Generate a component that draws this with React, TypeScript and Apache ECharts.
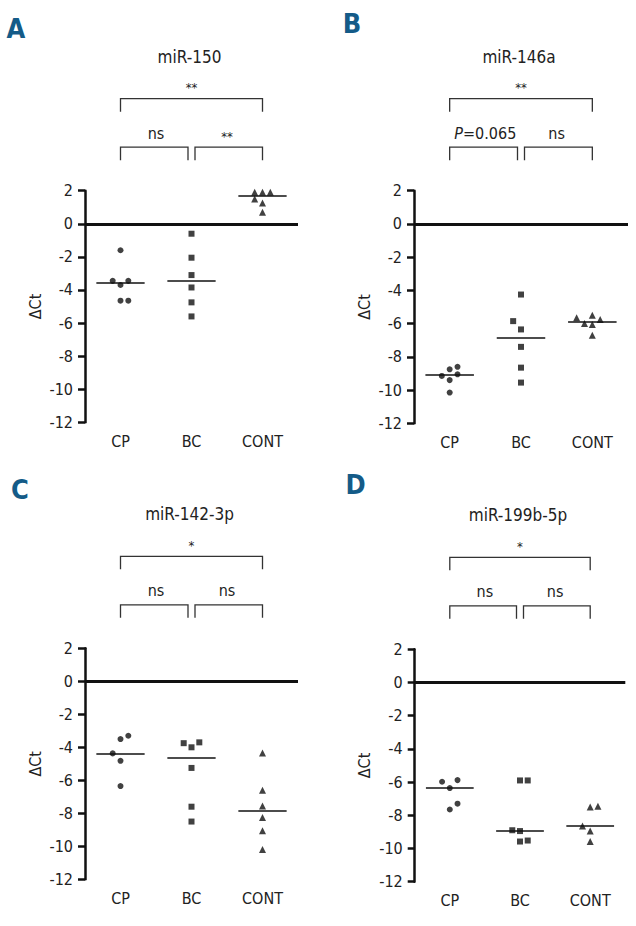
import React, { useEffect, useRef } from "react";
import * as echarts from "echarts";

const categories = ["CP", "BC", "CONT"];
const panelLetters = ["A", "B", "C", "D"];
const panelTitles = ["miR-150", "miR-146a", "miR-142-3p", "miR-199b-5p"];
const axisName = "ΔCt";
const topSig = ["**", "**", "*", "*"];
const leftSig = ["ns", "{i|P}=0.065", "ns", "ns"];
const rightSig = ["**", "ns", "ns", "ns"];

// Panel A: miR-150
const aCP = [-1.6, -3.45, -3.45, -3.7, -4.65, -4.65];
const aCPJitter = [0, -0.11, 0.11, 0, 0, 0.11];
const aBC = [-0.6, -2.05, -3.1, -3.85, -4.75, -5.6];
const aBCJitter = [0, 0, 0, 0, 0, 0];
const aCONT = [1.9, 1.9, 1.9, 1.5, 1.25, 0.7];
const aCONTJitter = [-0.11, 0, 0.11, -0.11, 0, 0];
const aMedians = [-3.58, -3.45, 1.71];

// Panel B: miR-146a
const bCP = [-8.75, -8.6, -9.15, -9.05, -9.4, -10.15];
const bCPJitter = [0, 0.11, -0.11, 0.11, 0, 0];
const bBC = [-4.25, -5.85, -6.35, -7.4, -8.65, -9.55];
const bBCJitter = [0, -0.11, 0, 0, 0, 0];
const bCONT = [-5.65, -5.5, -5.75, -6.0, -6.05, -6.7];
const bCONTJitter = [-0.22, 0, 0.11, -0.11, 0, 0];
const bMedians = [-9.06, -6.83, -5.86];

// Panel C: miR-142-3p
const cCP = [-3.3, -3.5, -4.37, -4.82, -6.35];
const cCPJitter = [0.11, 0, -0.11, 0, 0];
const cBC = [-3.75, -3.7, -4.0, -5.25, -7.6, -8.5];
const cBCJitter = [-0.11, 0.11, 0, 0, 0, 0];
const cCONT = [-4.35, -6.6, -7.55, -8.25, -9.05, -10.2];
const cCONTJitter = [0, 0, 0, 0, 0, 0];
const cMedians = [-4.37, -4.62, -7.87];

// Panel D: miR-199b-5p
const dCP = [-5.98, -5.88, -6.36, -7.3, -7.65];
const dCPJitter = [-0.11, 0.11, 0, 0.11, 0];
const dBC = [-5.9, -5.9, -8.9, -8.95, -9.58, -9.52];
const dBCJitter = [0, 0.11, -0.11, 0, 0, 0.11];
const dCONT = [-7.5, -7.45, -8.65, -8.95, -9.58];
const dCONTJitter = [0, 0.11, -0.11, 0, 0];
const dMedians = [-6.36, -8.91, -8.65];

const panelValues = [
  [aCP, aBC, aCONT],
  [bCP, bBC, bCONT],
  [cCP, cBC, cCONT],
  [dCP, dBC, dCONT],
];
const panelJitters = [
  [aCPJitter, aBCJitter, aCONTJitter],
  [bCPJitter, bBCJitter, bCONTJitter],
  [cCPJitter, cBCJitter, cCONTJitter],
  [dCPJitter, dBCJitter, dCONTJitter],
];
const panelMedians = [aMedians, bMedians, cMedians, dMedians];

// layout (pixels)
const grids = [
  { left: 85, top: 190.7, width: 213, height: 231.6 },
  { left: 414, top: 190.7, width: 214, height: 232.6 },
  { left: 85, top: 648.3, width: 213, height: 231 },
  { left: 414.7, top: 649.3, width: 210.6, height: 232.4 },
];
const letterPos = [
  [16, 28],
  [352, 23],
  [20, 489.5],
  [355.5, 484],
];
const symbols = ["circle", "rect", "triangle"];
const symbolSizes = [6, 6, 7];

const FONT = "'Liberation Sans Narrow', 'DejaVu Sans Condensed', 'Liberation Sans', sans-serif";
const INK = "#111";
const TEXT = "#222";
const LETTER = "#145b88";

export default function App() {
  const ref = useRef<HTMLDivElement>(null);

  useEffect(() => {
    if (!ref.current) return;
    const chart = echarts.init(ref.current, null, { renderer: "svg" });

    const xAxes: any[] = [];
    const yAxes: any[] = [];
    const series: any[] = [];
    const graphic: any[] = [];

    grids.forEach((g, p) => {
      xAxes.push({
        type: "value",
        gridIndex: p,
        min: 0.5,
        max: 3.5,
        axisLine: { show: false },
        axisTick: { show: false },
        splitLine: { show: false },
        axisLabel: {
          customValues: [1, 2, 3],
          formatter: (v: number) =>
            Math.abs(v - Math.round(v)) < 1e-6 ? categories[Math.round(v) - 1] ?? "" : "",
          margin: 11,
          fontSize: 16,
          fontFamily: FONT,
          color: TEXT,
        },
      });
      yAxes.push({
        type: "value",
        gridIndex: p,
        min: -12,
        max: 2,
        interval: 2,
        axisLine: { show: true, lineStyle: { color: INK, width: 2.5 } },
        axisTick: { show: true, inside: false, length: 7, lineStyle: { color: INK, width: 2.5 } },
        splitLine: { show: false },
        axisLabel: { margin: 12, fontSize: 16, fontFamily: FONT, color: TEXT },
        name: axisName,
        nameLocation: "middle",
        nameGap: 42,
        nameRotate: 90,
        nameTextStyle: { fontSize: 16, fontFamily: FONT, color: TEXT },
      });

      panelValues[p].forEach((vals, gi) => {
        const jit = panelJitters[p][gi];
        const m = panelMedians[p][gi];
        const mlData: any[] = [
          [
            { coord: [gi + 1 - 0.34, m] },
            { coord: [gi + 1 + 0.34, m] },
          ],
        ];
        if (gi === 0) {
          mlData.push({ yAxis: 0, lineStyle: { color: INK, width: 3, type: "solid" } });
        }
        series.push({
          type: "scatter",
          xAxisIndex: p,
          yAxisIndex: p,
          symbol: symbols[gi],
          symbolSize: symbolSizes[gi],
          itemStyle: { color: INK },
          data: vals.map((v, i) => [gi + 1 + jit[i], v]),
          markLine: {
            silent: true,
            symbol: ["none", "none"],
            label: { show: false },
            lineStyle: { color: INK, width: 1.5, type: "solid" },
            data: mlData,
          },
        });
      });

      // annotations
      const cx = (c: number) => g.left + ((c - 0.5) * g.width) / 3;
      const x1 = cx(1);
      const x2 = cx(2);
      const x3 = cx(3);
      const yTop = g.top - 92;
      const yLow = g.top - 43.5;
      const drop = 13;
      const bracket = (xa: number, xb: number, y: number) => ({
        type: "polyline",
        shape: { points: [[xa, y + drop], [xa, y], [xb, y], [xb, y + drop]] },
        style: { stroke: "#333", lineWidth: 1.3, fill: null },
        silent: true,
      });
      graphic.push(bracket(x1, x3, yTop));
      graphic.push(bracket(x1, x2 - 3.5, yLow));
      graphic.push(bracket(x2 + 3.5, x3, yLow));

      const txt = (text: string, x: number, y: number, size: number, extra: any = {}) => ({
        type: "text",
        x,
        y,
        silent: true,
        style: {
          text,
          fontSize: size,
          fontFamily: FONT,
          fill: TEXT,
          align: "center",
          verticalAlign: "middle",
          textAlign: "center",
          textVerticalAlign: "middle",
          ...extra,
        },
      });
      graphic.push(txt(panelTitles[p], x2 - 2, g.top - 134, 17));
      graphic.push(txt(topSig[p], x2, yTop - 11, 13));
      graphic.push(
        txt(leftSig[p], (x1 + x2) / 2, yLow - 14, 16, {
          rich: { i: { fontStyle: "italic", fontSize: 16, fontFamily: FONT, fill: TEXT } },
        })
      );
      graphic.push(
        txt(rightSig[p], (x2 + x3) / 2, yLow - (rightSig[p] === "ns" ? 14 : 11), rightSig[p] === "ns" ? 16 : 13)
      );
      graphic.push(
        txt(panelLetters[p], letterPos[p][0], letterPos[p][1], 27, {
          fontWeight: "bold",
          fill: LETTER,
        })
      );
    });

    chart.setOption({
      animation: false,
      backgroundColor: "#ffffff",
      grid: grids.map((g) => ({ ...g, containLabel: false })),
      xAxis: xAxes,
      yAxis: yAxes,
      series,
      graphic,
    });

    return () => chart.dispose();
  }, []);

  return (
    <div
      ref={ref}
      style={{ position: "absolute", left: 0, top: 0, width: 636, height: 926, background: "#fff" }}
    />
  );
}
